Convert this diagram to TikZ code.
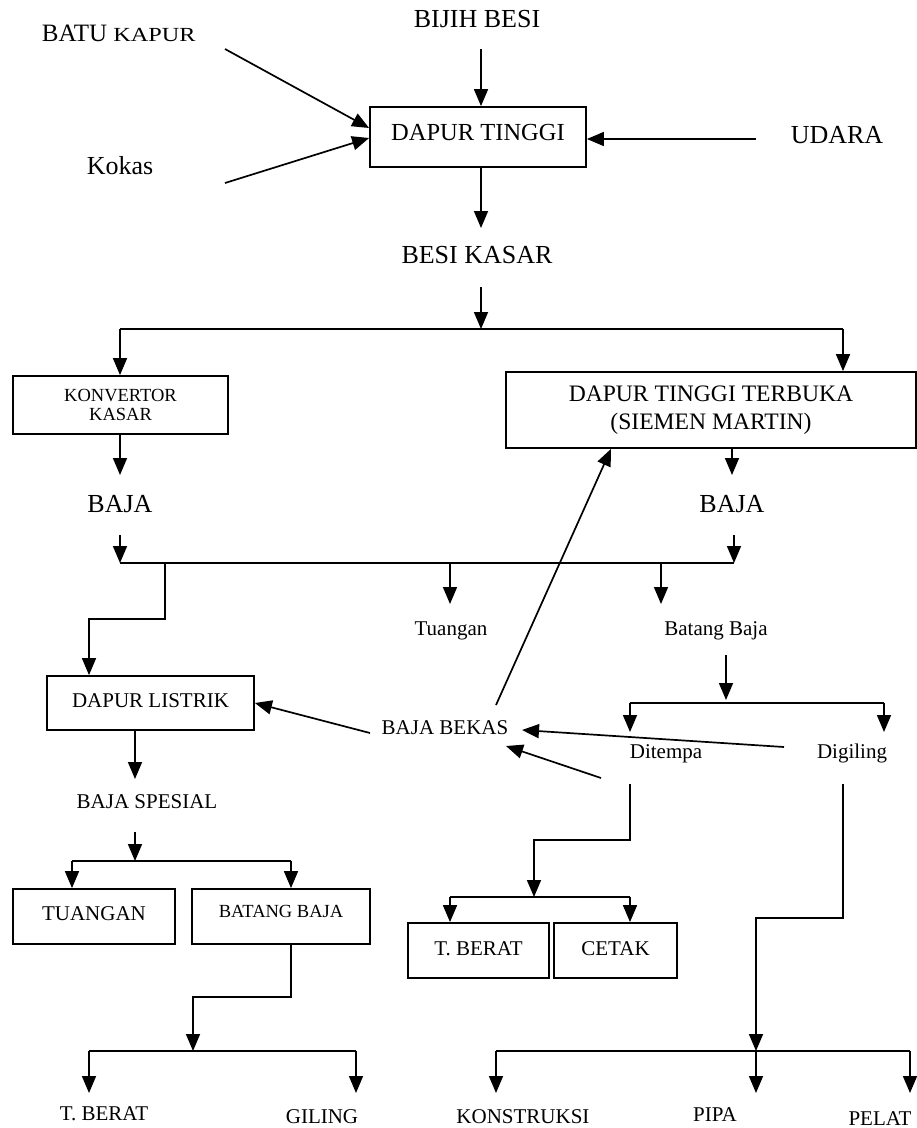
\documentclass[tikz,border=0pt]{standalone}
\usepackage{fontspec}
\setmainfont{Liberation Serif}
\usetikzlibrary{arrows.meta}
\begin{document}
\begin{tikzpicture}[x=1pt,y=-1pt,
  line width=1.7pt,
  arr/.style={-{Triangle[length=17pt,width=14pt]}},
  big/.style={font=\fontsize{26}{31}\selectfont, inner sep=0pt},
  mid/.style={font=\fontsize{21}{25}\selectfont, inner sep=0pt},
  box/.style={draw, line width=1.8pt, inner sep=0pt},
  % baseline offset below the box centre: H - D = 2*offset
  off/.style={text height={20pt+#1pt}, text depth={20pt-#1pt}},
]
\useasboundingbox (0,0) rectangle (917,1128);

% ---------- blast furnace ----------
\node[box, minimum width=216pt, minimum height=60pt, off=3,
      font=\fontsize{24.5}{29}\selectfont] (dt) at (478,137) {DAPUR TINGGI};
\node[anchor=base west, inner sep=0pt] (batu) at (41,41)
  {\fontsize{25}{30}\selectfont BATU \fontsize{25}{30}\selectfont\scalebox{0.97}[0.8]{KAPUR}};
\node[big, anchor=base] (bijih) at (477,27) {BIJIH BESI};
\node[big, anchor=base] (udara) at (837,143) {UDARA};
\node[big, anchor=base west] (kokas) at (86,174) {Kokas};
\node[big, anchor=base] (besi) at (477,263) {BESI KASAR};

\coordinate (bkA) at (225,49);
\coordinate (koA) at (225,183);
\coordinate (bjA) at (481,49);
\coordinate (udA) at (756,139);
\coordinate (bsB) at (481,228);
\draw[arr] (bkA) -- ([yshift=9pt]dt.west);
\draw[arr] (koA) -- ([yshift=-1pt]dt.west);
\draw[arr] (bjA) -- (bjA |- dt.north);
\draw[arr] (udA) -- (udA -| dt.east);
\draw[arr] (bsB |- dt.south) -- (bsB);

% ---------- converters ----------
\node[box, minimum width=215pt, minimum height=58pt, align=center,
      font=\fontsize{18.5}{19.5}\selectfont] (konv) at (120.5,405) {KONVERTOR\\KASAR};
\node[box, minimum width=410pt, minimum height=76pt, align=center,
      font=\fontsize{23.6}{28}\selectfont] (dtt) at (711,410)
      {DAPUR TINGGI TERBUKA\\(SIEMEN MARTIN)};

\coordinate (sA) at (481,287);
\coordinate (sJ) at (481,329);
\coordinate (sL) at (120,329);
\coordinate (sR) at (843,329);
\draw[arr] (sA) -- (sJ);
\draw (sL) -- (sR);
\draw[arr] (sL) -- (sL |- konv.north);
\draw[arr] (sR) -- (sR |- dtt.north);

\node[big, anchor=base] (bajaL) at (120,512) {BAJA};
\node[big, anchor=base] (bajaR) at (732,512) {BAJA};
\coordinate (kB) at (120,475);
\coordinate (dB) at (732,475);
\draw[arr] (kB |- konv.south) -- (kB);
\draw[arr] (dB |- dtt.south) -- (dB);

% ---------- steel collector ----------
\coordinate (mLa) at (120,535);
\coordinate (mRa) at (734,535);
\coordinate (mL) at (120,563);
\coordinate (mR) at (734,563);
\draw[arr] (mLa) -- (mL);
\draw[arr] (mRa) -- (mR);
\draw (mL) -- (mR);

\node[box, minimum width=207pt, minimum height=54pt, off=4,
      font=\fontsize{21}{25}\selectfont] (dl) at (150.5,703) {DAPUR LISTRIK};
\node[mid, anchor=base] (tuang) at (451,635) {Tuangan};
\node[mid, anchor=base] (batang) at (716,635) {Batang Baja};

\coordinate (b1) at (165,563);
\coordinate (b2) at (165,619);
\coordinate (b3) at (89,619);
\draw[arr] (b1) -- (b2) -- (b3) -- (b3 |- dl.north);
\coordinate (t1) at (450,563);
\coordinate (t2) at (450,604);
\draw[arr] (t1) -- (t2);
\coordinate (g1) at (661,563);
\coordinate (g2) at (661,604);
\draw[arr] (g1) -- (g2);

% ---------- scrap steel ----------
\node[mid, anchor=base] (bekas) at (445,734) {BAJA BEKAS};
\node[mid, anchor=base] (ditempa) at (666,758) {Ditempa};
\node[mid, anchor=base] (digiling) at (852,758) {Digiling};

\coordinate (bbA) at (496,705);
\coordinate (bbB) at (611,448);
\draw[arr] (bbA) -- (bbB |- dtt.south);
\coordinate (dlA) at (370,733);
\draw[arr] (dlA) -- (dl.east);

\coordinate (h1) at (726,655);
\coordinate (h2) at (726,700);
\coordinate (hL) at (630,703);
\coordinate (hR) at (884,703);
\coordinate (hLb) at (630,732);
\coordinate (hRb) at (884,732);
\draw[arr] (h1) -- (h2);
\draw (hL) -- (hR);
\draw[arr] (hL) -- (hLb);
\draw[arr] (hR) -- (hRb);

\coordinate (dgA) at (784,747);
\coordinate (dgB) at (522,730);
\draw[arr] (dgA) -- (dgB);
\coordinate (dtA) at (601,778);
\coordinate (dtB) at (506,746);
\draw[arr] (dtA) -- (dtB);

% ---------- forged branch ----------
\node[box, minimum width=141pt, minimum height=55pt, off=4.5,
      font=\fontsize{21}{25}\selectfont] (tb) at (478.5,950.5) {T. BERAT};
\node[box, minimum width=123pt, minimum height=55pt, off=4.5,
      font=\fontsize{21}{25}\selectfont] (ct) at (615.5,950.5) {CETAK};

\coordinate (f1) at (630,784);
\coordinate (f2) at (630,840);
\coordinate (f3) at (534,840);
\coordinate (f4) at (534,897);
\coordinate (fL) at (450,897);
\coordinate (fR) at (630,897);
\draw[arr] (f1) -- (f2) -- (f3) -- (f4);
\draw (fL) -- (fR);
\draw[arr] (fL) -- (fL |- tb.north);
\draw[arr] (fR) -- (fR |- ct.north);

% ---------- rolled branch ----------
\node[mid, anchor=base] (konstr) at (523,1123) {KONSTRUKSI};
\node[mid, anchor=base] (pipa) at (715,1121) {PIPA};
\node[mid, anchor=base] (pelat) at (880,1125) {PELAT};

\coordinate (r1) at (843,784);
\coordinate (r2) at (843,918);
\coordinate (r3) at (756,918);
\coordinate (r4) at (756,1051);
\coordinate (rL) at (496,1051);
\coordinate (rR) at (910,1051);
\draw[arr] (r1) -- (r2) -- (r3) -- (r4);
\draw (rL) -- (rR);
\draw[arr] (rL) -- (496,1093);
\draw[arr] (r4) -- (756,1093);
\draw[arr] (rR) -- (910,1093);

% ---------- electric furnace products ----------
\node[mid, anchor=base] (spesial) at (147,808) {BAJA SPESIAL};
\node[box, minimum width=162pt, minimum height=55pt, off=3.5,
      font=\fontsize{21}{25}\selectfont] (tu) at (94,916.5) {TUANGAN};
\node[box, minimum width=178pt, minimum height=55pt, off=0.5,
      font=\fontsize{18.5}{22}\selectfont] (bt) at (281,916.5) {BATANG BAJA};

\coordinate (e1) at (135,779);
\draw[arr] (e1 |- dl.south) -- (e1);
\coordinate (e2) at (135,832);
\coordinate (e3) at (135,861);
\coordinate (eL) at (72,861);
\coordinate (eR) at (291,861);
\draw[arr] (e2) -- (e3);
\draw (eL) -- (eR);
\draw[arr] (eL) -- (eL |- tu.north);
\draw[arr] (eR) -- (eR |- bt.north);

\node[mid, anchor=base] (tberat) at (104,1120) {T. BERAT};
\node[mid, anchor=base] (giling) at (322,1123) {GILING};

\coordinate (v1) at (291,997);
\coordinate (v2) at (193,997);
\coordinate (v3) at (193,1051);
\coordinate (vL) at (89,1051);
\coordinate (vR) at (356,1051);
\draw[arr] (v1 |- bt.south) -- (v1) -- (v2) -- (v3);
\draw (vL) -- (vR);
\draw[arr] (vL) -- (89,1093);
\draw[arr] (vR) -- (356,1093);
\end{tikzpicture}
\end{document}
